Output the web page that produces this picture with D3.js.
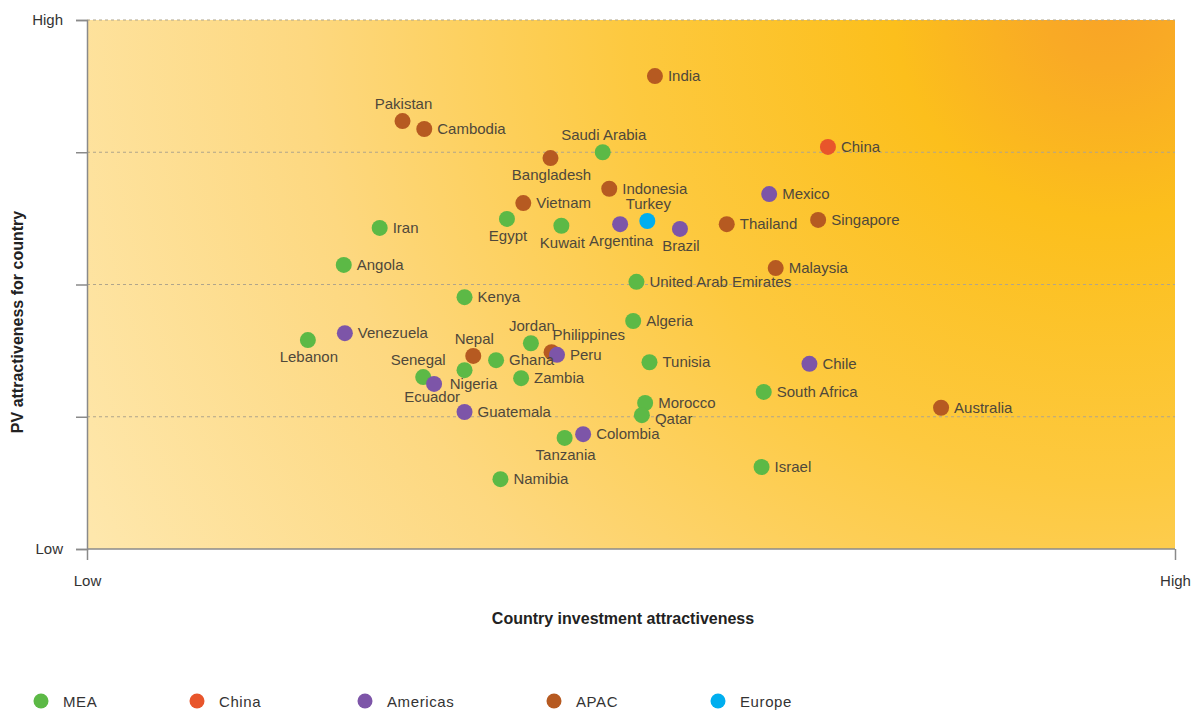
<!DOCTYPE html>
<html>
<head>
<meta charset="utf-8">
<script src="https://d3js.org/d3.v7.min.js"></script>
<style>
  body { margin: 0; background: #fff; }
  text { font-family: "Liberation Sans", Arial, sans-serif; }
</style>
</head>
<body>
<div id="chart"></div>
<script>
// data (0-100 on both axes)
var countries = ["India","Pakistan","Cambodia","Saudi Arabia","Bangladesh","China","Indonesia","Mexico","Vietnam","Turkey",
  "Egypt","Kuwait","Argentina","Brazil","Thailand","Singapore","Iran","Angola","Malaysia","United Arab Emirates",
  "Kenya","Algeria","Lebanon","Venezuela","Jordan","Nepal","Philippines","Peru","Ghana","Tunisia",
  "Chile","Senegal","Nigeria","Ecuador","Zambia","South Africa","Morocco","Qatar","Australia","Guatemala",
  "Colombia","Tanzania","Israel","Namibia"];
var regions = ["APAC","APAC","APAC","MEA","APAC","China","APAC","Americas","APAC","Europe",
  "MEA","MEA","Americas","Americas","APAC","APAC","MEA","MEA","APAC","MEA",
  "MEA","MEA","MEA","Americas","MEA","APAC","APAC","Americas","MEA","MEA",
  "Americas","MEA","MEA","Americas","MEA","MEA","MEA","MEA","APAC","Americas",
  "Americas","MEA","MEA","MEA"];
var investment = [52.2,29.0,31.0,47.4,42.6,68.1,48.0,62.7,40.1,51.5,
  38.6,43.6,49.0,54.5,58.8,67.2,26.9,23.6,63.3,50.5,
  34.7,50.2,20.3,23.7,40.8,35.5,42.7,43.2,37.6,51.7,
  66.4,30.9,34.7,31.9,39.9,62.2,51.3,51.0,78.5,34.7,
  45.6,43.9,62.0,38.0];
var pvAttract = [89.4,80.9,79.4,75.0,73.9,76.0,68.1,67.1,65.4,62.0,
  62.4,61.1,61.4,60.5,61.4,62.2,60.7,53.7,53.1,50.5,
  47.6,43.1,39.5,40.8,38.9,36.5,37.2,36.7,35.7,35.3,
  35.0,32.5,33.8,31.2,32.3,29.7,27.6,25.3,26.7,25.9,
  21.7,21.0,15.5,13.2];
// label placement: r = right, rl = right lower, a = above, b = below, bs = below short,
// ar = above right, al = above left, br = below right
var labelPos = ["r","a","r","a","b","r","r","r","r","a",
  "b","b","b","b","r","r","r","r","r","r",
  "r","r","b","r","a","a","ar","r","r","r",
  "r","al","br","bs","r","r","r","rl","r","r",
  "r","b","r","r"];
var legendNames = ["MEA","China","Americas","APAC","Europe"];
var legendColors = ["#5cb946","#e8552b","#7d55a8","#b65a21","#00aeef"];
var yTicks = [0,25,50,75,100];

var W = 1192, H = 711;
var margin = {top: 20, right: 17, bottom: 162, left: 87};
var width = W - margin.left - margin.right,
    height = H - margin.top - margin.bottom;

var svg = d3.select("#chart").append("svg")
  .attr("width", W).attr("height", H);

var defs = svg.append("defs");
var grad = defs.append("radialGradient")
  .attr("id", "bg")
  .attr("gradientUnits", "userSpaceOnUse")
  .attr("cx", 1110).attr("cy", 0).attr("r", 1150);
[[0,"#f9a326"],[0.06,"#f9aa25"],[0.19,"#fcbf1c"],[0.42,"#fdc93f"],[0.7,"#fdd880"],[1,"#fee7ac"]].forEach(function(s){
  grad.append("stop").attr("offset", s[0]).attr("stop-color", s[1]);
});

var x = d3.scaleLinear().domain([0,100]).range([0,width]);
var y = d3.scaleLinear().domain([0,100]).range([height,0]);
var color = d3.scaleOrdinal().domain(legendNames).range(legendColors);

svg.append("rect").attr("x",margin.left).attr("y",margin.top)
  .attr("width",width).attr("height",height).attr("fill","url(#bg)");

var g = svg.append("g").attr("transform","translate(" + margin.left + "," + margin.top + ")");

// dashed grid
g.selectAll(".grid").data(yTicks.slice(1)).enter().append("line")
  .attr("x1",0).attr("x2",width)
  .attr("y1",function(d){return y(d);}).attr("y2",function(d){return y(d);})
  .attr("stroke","#b0a58c").attr("stroke-width",1.2).attr("stroke-dasharray","3,3");

// y axis
var yAxis = g.append("g").call(d3.axisLeft(y).tickValues(yTicks).tickSize(11)
  .tickFormat(function(d){ return d===100 ? "High" : (d===0 ? "Low" : ""); }));
yAxis.select(".domain").attr("stroke","#8a8a8a").attr("stroke-width",1.5);
yAxis.selectAll(".tick line").attr("stroke","#8a8a8a").attr("stroke-width",1.5);
yAxis.selectAll(".tick text").attr("x",-24).attr("font-size",15).attr("fill","#333")
  .style("font-family","Liberation Sans, Arial, sans-serif");

// x axis
var xAxis = g.append("g").attr("transform","translate(0," + height + ")")
  .call(d3.axisBottom(x).tickValues([0,100]).tickSize(11)
  .tickFormat(function(d){ return d===100 ? "High" : "Low"; }));
xAxis.select(".domain").attr("stroke","#8a8a8a").attr("stroke-width",1.5).attr("d","M0,0H" + width);
xAxis.selectAll(".tick line").attr("stroke","#8a8a8a").attr("stroke-width",1.5);
xAxis.selectAll(".tick text").attr("y",26).attr("font-size",15).attr("fill","#333")
  .style("font-family","Liberation Sans, Arial, sans-serif");

// axis titles
svg.append("text").attr("x", 623).attr("y", 624).attr("text-anchor","middle")
  .attr("font-size",16).attr("font-weight","bold").attr("fill","#222")
  .text("Country investment attractiveness");
svg.append("text").attr("transform","translate(23,322) rotate(-90)").attr("text-anchor","middle")
  .attr("font-size",16).attr("font-weight","bold").attr("fill","#222")
  .text("PV attractiveness for country");

// points
var data = countries.map(function(c,i){
  return {name:c, region:regions[i], x:investment[i], y:pvAttract[i], pos:labelPos[i]};
});

g.selectAll(".dot").data(data).enter().append("circle")
  .attr("cx",function(d){return x(d.x);})
  .attr("cy",function(d){return y(d.y);})
  .attr("r",8)
  .attr("fill",function(d){return color(d.region);});

g.selectAll(".lbl").data(data).enter().append("text")
  .attr("x",function(d){
    var px = x(d.x);
    if (d.pos==="r" || d.pos==="rl") return px + 13;
    if (d.pos==="ar") return px + 1;
    if (d.pos==="al") return px - 5;
    if (d.pos==="br") return px + 9;
    if (d.pos==="bs") return px - 2;
    return px + 1;
  })
  .attr("y",function(d){
    var py = y(d.y);
    if (d.pos==="r") return py + 5;
    if (d.pos==="rl") return py + 9;
    if (d.pos==="a" || d.pos==="al" || d.pos==="ar") return py - 12;
    if (d.pos==="bs") return py + 18;
    if (d.pos==="br") return py + 19;
    return py + 22;
  })
  .attr("text-anchor",function(d){ return (d.pos==="r" || d.pos==="rl" || d.pos==="ar") ? "start" : "middle"; })
  .attr("font-size",15).attr("fill","#4f483b")
  .text(function(d){return d.name;});

// legend
var legend = svg.append("g").selectAll("g").data(legendNames).enter().append("g")
  .attr("transform",function(d,i){ return "translate(" + [41,197,365,554,718][i] + ",701)"; });
legend.append("circle").attr("r",7.5).attr("fill",function(d){return color(d);});
legend.append("text").attr("x",22).attr("y",5.5).attr("font-size",15)
  .attr("letter-spacing","0.6px").attr("fill","#333").text(function(d){return d;});
</script>
</body>
</html>
